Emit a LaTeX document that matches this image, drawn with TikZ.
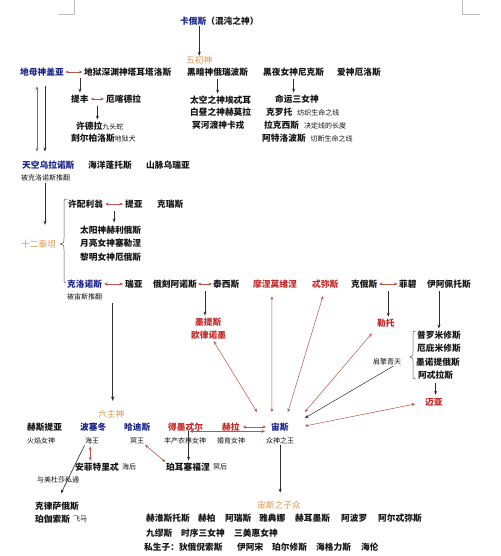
\documentclass[tikz,border=0pt]{standalone}
\usepackage{fontspec}
\setmainfont{Noto Sans CJK SC}
\usetikzlibrary{arrows.meta,calc}
\definecolor{cblue}{RGB}{25,35,140}
\definecolor{cred}{RGB}{195,40,40}
\definecolor{corange}{RGB}{228,150,75}
\definecolor{cline}{RGB}{45,45,45}
\definecolor{rline}{RGB}{185,85,75}
\definecolor{ctext}{RGB}{20,20,20}
\newcommand\fmain{\fontsize{8.7}{10}\selectfont\bfseries}
\newcommand\fsmall{\fontsize{7}{8}\selectfont\mdseries}
\begin{document}
\begin{tikzpicture}[x=1pt,y=-1pt,
  n/.style={inner sep=0pt,anchor=west,font=\fmain,text=ctext},
  sm/.style={inner sep=0pt,anchor=west,font=\fsmall,text=ctext},
  bl/.style={n,text=cblue},
  rd/.style={n,text=cred},
  orn/.style={n,font=\fontsize{8.7}{10}\selectfont,text=corange},
  arr/.style={draw=cline,line width=0.6pt,-{Stealth[length=4pt,width=3pt]}},
  rarr/.style={draw=rline,line width=0.6pt,{Stealth[length=3.5pt,width=3pt]}-{Stealth[length=3.5pt,width=3pt]}},
  brace/.style={draw=cline!80,line width=0.5pt}
]
\path[use as bounding box,fill=white] (0,0) rectangle (500,556);
% crop marks
\draw[black!25,line width=0.8pt] (58,14) -- (74,14) -- (74,0);
\draw[black!25,line width=0.8pt] (462,0) -- (462,14) -- (480,14);

% Chaos
\node[n] (chaos) at (180,21) {\textcolor{cblue}{卡俄斯}（混沌之神）};
\node[orn] (wuchu) at (186,60) {五初神};
\draw[arr] (chaos.south -| wuchu.north) -- (wuchu.north);

% row of primordials
\node[bl] (gaia) at (20,72) {地母神盖亚};
\node[n] (tart) at (84,72) {地狱深渊神塔耳塔洛斯};
\node[n] (ereb) at (187,72) {黑暗神俄瑞波斯};
\node[n] (nyx) at (263,72) {黑夜女神尼克斯};
\node[n] (eros) at (337,72) {爱神厄洛斯};
\draw[rarr,shorten <=1.5pt,shorten >=1.5pt] (gaia.east) -- (tart.west);

% Tartarus line
\node[n] (typh) at (71,99) {提丰};
\node[n] (echi) at (106,99) {厄喀德拉};
\draw[arr,shorten <=2pt,shorten >=2pt] (tart.south -| typh.north) -- (typh.north);
\draw[rarr,shorten <=2pt,shorten >=2pt] (typh.east) -- (echi.west);
\coordinate (te) at ($(typh.east)!0.5!(echi.west)$);
\node[n] (hydra) at (76,126) {许德拉{\fsmall 九头蛇}};
\node[n] (cerb) at (71,138) {刻尔柏洛斯{\fsmall 地狱犬}};
\draw[arr,shorten <=3pt,shorten >=2pt] (te |- typh.south) -- (te |- hydra.north);

% Erebus
\node[n] (aeth) at (190,100) {太空之神埃忒耳};
\node[n] (hem) at (190,112) {白昼之神赫莫拉};
\node[n] (charon) at (192,125) {冥河渡神卡戎};
\draw[arr,shorten <=3pt,shorten >=2pt] (ereb.south) -- (ereb.south |- aeth.north);

% Nyx
\node[n] (fates) at (275,99) {命运三女神};
\node[n] (clo) at (266,112) {克罗托\hspace{5pt}{\fsmall 纺织生命之线}};
\node[n] (lach) at (264,125) {拉克西斯\hspace{5pt}{\fsmall 决定线的长度}};
\node[n] (atro) at (262,138) {阿特洛波斯\hspace{5pt}{\fsmall 切断生命之线}};
\draw[arr,shorten <=3pt,shorten >=2pt] (nyx.south) -- (nyx.south |- fates.north);

% Uranus
\node[bl] (uran) at (22,165) {天空乌拉诺斯};
\node[n] (pont) at (88,165) {海洋蓬托斯};
\node[n] (ourea) at (146,165) {山脉乌瑞亚};
\node[sm] (unote) at (21,178) {被克洛诺斯推翻};
\draw[rarr,shorten <=10pt,shorten >=9pt] ([xshift=-5pt]gaia.south) -- ([xshift=-5pt]gaia.south |- uran.north);
\draw[arr,shorten <=10pt,shorten >=9pt] ([xshift=3pt]gaia.south) -- ([xshift=3pt]gaia.south |- uran.north);

% Titans
\node[orn] (titans) at (21,244) {十二泰坦};
\draw[arr,shorten <=2pt,shorten >=15pt] (unote.south -| 45,0) -- (titans.north -| 45,0);
\draw[brace] (68,199) .. controls (64,199) .. (64,204) -- (64,238)
  .. controls (64,243) .. (60,244) .. controls (64,245) .. (64,250) -- (64,276)
  .. controls (64,283) .. (66,283);

\node[n] (hyp) at (68,204) {许配利翁};
\node[n] (theia) at (125,204) {提亚};
\node[n] (crius) at (157,204) {克瑞斯};
\draw[rarr,shorten <=2pt,shorten >=2pt] (hyp.east) -- (theia.west);
\coordinate (ht) at ($(hyp.east)!0.5!(theia.west)$);
\node[n] (helios) at (80,230) {太阳神赫利俄斯};
\node[n] (selene) at (80,243) {月亮女神塞勒涅};
\node[n] (eos) at (80,257) {黎明女神厄俄斯};
\draw[arr,shorten <=3pt,shorten >=3pt] (ht |- hyp.south) -- (ht |- helios.north);

% Titan row
\node[bl] (cron) at (67,284) {克洛诺斯};
\node[n] (rhea) at (125,284) {瑞亚};
\node[n] (ocea) at (153,284) {俄刻阿诺斯};
\node[n] (teth) at (213,284) {泰西斯};
\node[rd] (mnem) at (253,284) {摩涅莫绪涅};
\node[rd] (them) at (312,284) {忒弥斯};
\node[n] (coeus) at (351,284) {克俄斯};
\node[n] (phoe) at (399,284) {菲碧};
\node[n] (iap) at (427,284) {伊阿佩托斯};
\node[sm] (cnote) at (67,297) {被宙斯推翻};
\draw[rarr,shorten <=2pt,shorten >=2pt] (cron.east) -- (rhea.west);
\draw[rarr,shorten <=1pt,shorten >=1pt] (ocea.east) -- (teth.west);
\draw[rarr,shorten <=1.5pt,shorten >=1.5pt] (coeus.east) -- (phoe.west);
\coordinate (crmid) at ($(cron.east)!0.5!(rhea.west)$);
\coordinate (ot) at ($(ocea.east)!0.5!(teth.west)$);
\coordinate (cp) at ($(coeus.east)!0.5!(phoe.west)$);

\node[rd] (metis) at (195,322) {墨提斯};
\node[rd] (euryn) at (191,335) {欧律诺墨};
\draw[arr,shorten <=3pt,shorten >=2pt] (ot |- ocea.south) -- (ot |- metis.north);
\node[rd] (leto) at (377,323) {勒托};
\draw[arr,shorten <=3pt,shorten >=2pt] (cp |- coeus.south) -- (cp |- leto.north);

\node[n] (prom) at (417,335) {普罗米修斯};
\node[n] (epim) at (417,348) {厄庇米修斯};
\node[n] (meno) at (416,362) {墨诺提俄斯};
\node[n] (atlas) at (418,375) {阿忒拉斯};
\draw[arr,shorten <=3pt,shorten >=2pt] ([xshift=-10pt]iap.south) -- ([xshift=-10pt]iap.south |- prom.north);
\draw[brace] (416,331) .. controls (413,331) .. (413,335) -- (413,352)
  .. controls (413,356) .. (410,357) .. controls (413,358) .. (413,362) -- (413,375)
  .. controls (413,379) .. (416,379);
\node[sm] (shoulder) at (373,362) {肩擎青天};
\node[rd] (maia) at (425,402) {迈亚};
\draw[arr,shorten <=3pt,shorten >=3pt] (atlas.south) -- (atlas.south |- maia.north);

% Six gods
\node[orn] (liuzhu) at (98,414) {六主神};
\draw[draw=cline,line width=1.2pt,-{Stealth[length=4.5pt,width=3.5pt]},shorten <=3pt,shorten >=9pt]
  ([xshift=-0.9pt]crmid |- cnote.south) -- ([xshift=-0.9pt]crmid |- liuzhu.north);
\node[n] (hest) at (27,427) {赫斯提亚};
\node[bl] (pos) at (80,427) {波塞冬};
\node[bl] (hades) at (124,427) {哈迪斯};
\node[rd] (deme) at (168,427) {得墨忒尔};
\node[rd] (hera) at (222,427) {赫拉};
\node[bl] (zeus) at (271,427) {宙斯};
\node[sm] (hestn) at (27,441) {火焰女神};
\node[sm] (posn) at (85,441) {海王};
\node[sm] (hadn) at (130,441) {冥王};
\node[sm] (demn) at (164,441) {丰产农林女神};
\node[sm] (hern) at (217,441) {婚育女神};
\node[sm] (zeusn) at (266,441) {众神之王};

\node[n] (pers) at (166,467) {珀耳塞福涅};
\node[sm] (persn) at (213,467) {冥后};
\node[n] (amph) at (75,467) {安菲特里忒};
\node[sm] (amphn) at (122,467) {海后};

\draw[rarr,shorten <=3pt,shorten >=5pt] (hera.east) -- (zeus.west);
\draw[rarr,shorten >=6pt] ([xshift=4pt]deme.south) -- (deme.south -| zeus.west);
\draw[arr,shorten >=2pt] ([xshift=3pt]deme.south) -- ([xshift=3pt]deme.south |- pers.north);
\draw[rarr,shorten <=1pt,shorten >=1pt] (hadn.south east) -- (pers.north west);
\draw[rarr,shorten <=2pt,shorten >=2pt] ([xshift=-2pt]posn.south) -- ([xshift=-2pt]posn.south |- amph.north);

\node[sm] (medusa) at (37,480) {与美杜莎私通};
\node[n] (chrys) at (35,506) {克律萨俄斯};
\node[n] (peg) at (35,519) {珀伽索斯};
\node[sm] (pegn) at (73,519) {飞马};
\draw[arr,shorten <=1pt,shorten >=9pt] (posn.south west) -- (chrys.north);

% arrows to Zeus
\draw[rarr,line width=0.5pt,shorten <=2pt] ([xshift=4pt]euryn.south) -- ([shift={(-23,-15)}]zeus.center);
\draw[rarr,line width=0.5pt,shorten <=8pt] ([xshift=-3pt]mnem.south) -- ([shift={(-8,-15)}]zeus.center);
\draw[rarr,line width=0.5pt,shorten <=8pt] (them.south) -- ([shift={(8,-15)}]zeus.center);
\draw[rarr,line width=0.5pt,shorten <=8pt] (leto.south west) -- ([shift={(25,-15)}]zeus.center);
\draw[arr,line width=0.5pt,shorten <=1pt] ([xshift=-7pt]shoulder.south east) -- ([shift={(25,-9)}]zeus.center);
\draw[rarr,line width=0.5pt,shorten <=10pt] (maia.west) -- ([shift={(25,-1)}]zeus.center);

% Zeus children
\node[orn] (zchild) at (257,505) {宙斯之子众};
\draw[arr,shorten <=1pt,shorten >=8pt] (zeusn.south) -- (zeusn.south |- zchild.north);
\node[n] (heph) at (146,518) {赫淮斯托斯};
\node[n] (hebe) at (198,518) {赫柏};
\node[n] (ares) at (225,518) {阿瑞斯};
\node[n] (athe) at (259,518) {雅典娜};
\node[n] (herm) at (295,518) {赫耳墨斯};
\node[n] (apol) at (341,518) {阿波罗};
\node[n] (arte) at (378,518) {阿尔忒弥斯};
\node[n] (muses) at (146,533) {九缪斯};
\node[n] (horae) at (181,533) {时序三女神};
\node[n] (chari) at (234,533) {三美惠女神};
\node[n] (dion) at (144,547) {私生子：狄俄倪索斯};
\node[n] (jason) at (237,547) {伊阿宋};
\node[n] (pers2) at (272,547) {珀尔修斯};
\node[n] (herc) at (316,547) {海格力斯};
\node[n] (helen) at (361,547) {海伦};
\end{tikzpicture}
\end{document}
